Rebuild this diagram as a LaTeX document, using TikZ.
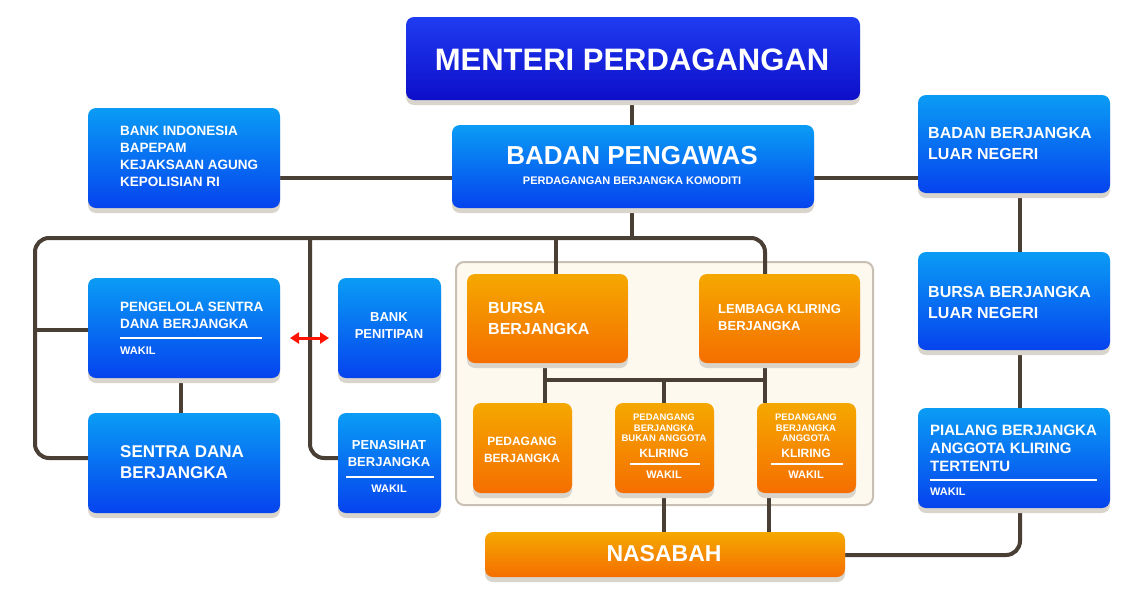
\documentclass[tikz,border=0pt]{standalone}
\usepackage{fontspec}
\setmainfont{Liberation Sans}
\usetikzlibrary{arrows.meta}
\definecolor{ln}{HTML}{4A3F35}
\definecolor{bt}{HTML}{0A9CF5}
\definecolor{bb}{HTML}{0643EE}
\definecolor{ot}{HTML}{F5A800}
\definecolor{ob}{HTML}{F56E00}
\definecolor{mt}{HTML}{1F3CF2}
\definecolor{mb}{HTML}{0E0EC8}
\definecolor{sh}{HTML}{D9D5CD}
\newcommand\fs[2]{\fontsize{#1}{#2}\selectfont\bfseries}
\newcommand\mkbox[6]{%
  \fill[sh,rounded corners=8pt] (#2,#3+5) rectangle (#4,#5+5);
  \node[#6,minimum width={#4-#2},minimum height={#5-#3}] (#1) at ({(#2+#4)/2},{(#3+#5)/2}) {};}
\begin{document}
\begin{tikzpicture}[x=1pt,y=-1pt,
  box/.style={rounded corners=8pt,inner sep=0pt,draw=none},
  bluebox/.style={box,top color=bt,bottom color=bb},
  orbox/.style={box,top color=ot,bottom color=ob},
  mbox/.style={box,top color=mt,bottom color=mb},
  wire/.style={draw=ln,line width=4pt,rounded corners=14pt},
  txt/.style={text=white,inner sep=0pt,font=\fs{13}{16}},
  rule/.style={draw=white,line width=1.5pt}]
\useasboundingbox[fill=white] (0,0) rectangle (1141,606);
\fill[fill={rgb,255:red,253;green,249;blue,238},draw={rgb,255:red,200;green,192;blue,178},line width=2pt,rounded corners=8pt] (456,262) rectangle (873,505);
% wires
\coordinate (j1) at (632,238);
\draw[wire] (632,100) -- (632,125);
\draw[wire] (280,178) -- (452,178);
\draw[wire] (814,178) -- (918,178);
\draw[wire] (1020,193) -- (1020,408);
\draw[wire] (1020,508) -- (1020,555) -- (845,555);
\draw[wire] (632,208) -- (j1);
\draw[wire] (88,458) -- (35,458) -- (35,238) -- (765,238) -- (765,274);
\draw[wire] (35,330) -- (88,330);
\draw[wire] (556,238) -- (556,274);
\draw[wire] (310,238) -- (310,458) -- (338,458);
\draw[wire] (181,378) -- (181,413);
\draw[wire] (545,363) -- (545,403);
\draw[wire] (765,363) -- (765,403);
\draw[wire,rounded corners=0pt] (545,380) -- (765,380);
\draw[wire] (664,380) -- (664,403);
\draw[wire] (664,493) -- (664,532);
\draw[wire] (769,493) -- (769,532);
% boxes
\mkbox{men}{406}{17}{860}{100}{mbox}
\mkbox{bi}{88}{108}{280}{208}{bluebox}
\mkbox{bp}{452}{125}{814}{208}{bluebox}
\mkbox{bln}{918}{95}{1110}{193}{bluebox}
\mkbox{bbln}{918}{252}{1110}{350}{bluebox}
\mkbox{pia}{918}{408}{1110}{508}{bluebox}
\mkbox{pen}{88}{278}{280}{378}{bluebox}
\mkbox{sen}{88}{413}{280}{513}{bluebox}
\mkbox{bpt}{338}{278}{441}{378}{bluebox}
\mkbox{pns}{338}{413}{441}{513}{bluebox}
\mkbox{bur}{467}{274}{628}{363}{orbox}
\mkbox{lk}{699}{274}{860}{363}{orbox}
\mkbox{ped}{473}{403}{572}{493}{orbox}
\mkbox{pbb}{615}{403}{714}{493}{orbox}
\mkbox{pba}{757}{403}{856}{493}{orbox}
\mkbox{nas}{485}{532}{845}{577}{orbox}
\draw[{Triangle[length=9pt,width=11pt]}-{Triangle[length=9pt,width=11pt]},red!85!orange,line width=3pt] (290,338) -- (329,338);
% texts
\node[txt,font=\fs{31}{36}] (tmen) at (632,60) {MENTERI PERDAGANGAN};
\node[txt,anchor=west,align=left,font=\fs{13.5}{17}] (tbi) at (120,156) {BANK INDONESIA\\BAPEPAM\\KEJAKSAAN AGUNG\\KEPOLISIAN RI};
\node[txt,font=\fs{26}{30}] (tbp) at (632,156) {BADAN PENGAWAS};
\node[txt,font=\fs{11}{13}] (tbp2) at (632,181) {PERDAGANGAN BERJANGKA KOMODITI};
\node[txt,anchor=west,align=left,font=\fs{16}{21}] (tbln) at (928,143) {BADAN BERJANGKA\\LUAR NEGERI};
\node[txt,anchor=west,align=left,font=\fs{16}{21}] (tbbln) at (928,302) {BURSA BERJANGKA\\LUAR NEGERI};
\node[txt,anchor=west,align=left,font=\fs{15}{18}] (tpia) at (930,448) {PIALANG BERJANGKA\\ANGGOTA KLIRING\\TERTENTU};
\draw[rule] (930,480) -- (1097,480);
\node[txt,anchor=west,font=\fs{11}{13}] (tpiaw) at (930,492) {WAKIL};
\node[txt,anchor=west,align=left,font=\fs{13.5}{17}] (tpen) at (120,315) {PENGELOLA SENTRA\\DANA BERJANGKA};
\draw[rule] (120,338) -- (262,338);
\node[txt,anchor=west,font=\fs{11}{13}] (tpenw) at (120,351) {WAKIL};
\node[txt,anchor=west,align=left,font=\fs{17}{21}] (tsen) at (120,462) {SENTRA DANA\\BERJANGKA};
\node[txt,align=center,font=\fs{13}{17}] (tbpt) at (389,326) {BANK\\PENITIPAN};
\node[txt,align=center,font=\fs{13}{17}] (tpns) at (389,454) {PENASIHAT\\BERJANGKA};
\draw[rule] (346,477) -- (434,477);
\node[txt,font=\fs{11}{13}] (tpnsw) at (389,489) {WAKIL};
\node[txt,anchor=west,align=left,font=\fs{16}{21}] (tbur) at (488,318) {BURSA\\BERJANGKA};
\node[txt,anchor=west,align=left,font=\fs{13}{17}] (tlk) at (718,318) {LEMBAGA KLIRING\\BERJANGKA};
\node[txt,align=center,font=\fs{12}{17}] (tped) at (522,450) {PEDAGANG\\BERJANGKA};
\node[txt,align=center,font=\fs{9.5}{10.5}] (tpbb) at (664,428) {PEDANGANG\\BERJANGKA\\BUKAN ANGGOTA};
\node[txt,font=\fs{12}{14}] (tpbbk) at (664,453) {KLIRING};
\draw[rule] (630,464) -- (700,464);
\node[txt,font=\fs{11}{13}] (tpbbw) at (664,475) {WAKIL};
\node[txt,align=center,font=\fs{9.5}{10.5}] (tpba) at (806,428) {PEDANGANG\\BERJANGKA\\ANGGOTA};
\node[txt,font=\fs{12}{14}] (tpbak) at (806,453) {KLIRING};
\draw[rule] (771,464) -- (843,464);
\node[txt,font=\fs{11}{13}] (tpbaw) at (806,475) {WAKIL};
\node[txt,font=\fs{23}{27}] (tnas) at (664,554) {NASABAH};
\end{tikzpicture}
\end{document}
